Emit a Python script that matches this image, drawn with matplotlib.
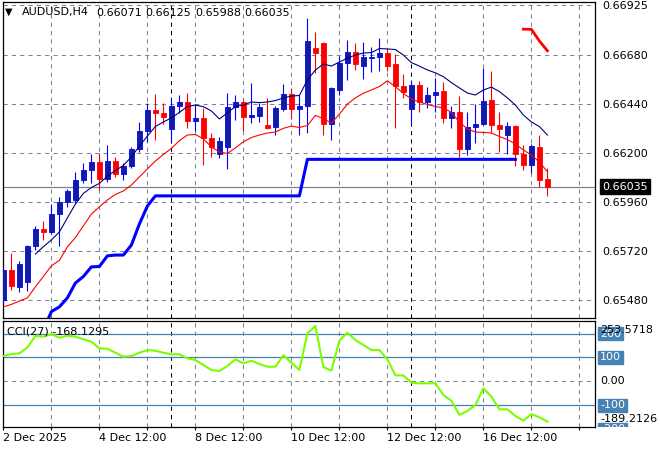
import numpy as np
import matplotlib.pyplot as plt
from matplotlib.transforms import Bbox, TransformedBbox, blended_transform_factory

plt.rcParams['font.family'] = ['DejaVu Sans']
plt.rcParams['lines.scale_dashes'] = False

# AUDUSD H4 candles, bar 0 = 2 Dec 12:00
opens = [0.65480, 0.65627, 0.65545, 0.65570, 0.65745, 0.65828, 0.65812, 0.65901, 0.65962, 0.65970,
         0.66068, 0.66117, 0.66155, 0.66071, 0.66162, 0.66096, 0.66138, 0.66220, 0.66308, 0.66411,
         0.66397, 0.66320, 0.66430, 0.66450, 0.66358, 0.66373, 0.66275, 0.66194, 0.66230, 0.66427,
         0.66450, 0.66378, 0.66380, 0.66337, 0.66326, 0.66414, 0.66489, 0.66417, 0.66428, 0.66716,
         0.66740, 0.66342, 0.66509, 0.66642, 0.66693, 0.66628, 0.66665, 0.66672, 0.66691, 0.66635,
         0.66528, 0.66416, 0.66533, 0.66451, 0.66484, 0.66504, 0.66373, 0.66399, 0.66218, 0.66326,
         0.66342, 0.66461, 0.66337, 0.66288, 0.66332, 0.66195, 0.66141, 0.66231, 0.66071]
highs = [0.65640, 0.65709, 0.65673, 0.65750, 0.65844, 0.65867, 0.65950, 0.65986, 0.66024, 0.66108,
         0.66153, 0.66195, 0.66199, 0.66239, 0.66179, 0.66153, 0.66231, 0.66350, 0.66444, 0.66489,
         0.66444, 0.66468, 0.66484, 0.66495, 0.66439, 0.66420, 0.66297, 0.66280, 0.66493, 0.66484,
         0.66460, 0.66544, 0.66444, 0.66468, 0.66430, 0.66538, 0.66517, 0.66484, 0.66863, 0.66794,
         0.66745, 0.66525, 0.66675, 0.66754, 0.66737, 0.66742, 0.66721, 0.66765, 0.66708, 0.66684,
         0.66587, 0.66558, 0.66554, 0.66522, 0.66566, 0.66549, 0.66430, 0.66479, 0.66402, 0.66440,
         0.66615, 0.66603, 0.66402, 0.66354, 0.66336, 0.66239, 0.66243, 0.66288, 0.66125]
lows = [0.65460, 0.65529, 0.65521, 0.65526, 0.65725, 0.65774, 0.65805, 0.65745, 0.65937, 0.65954,
        0.66052, 0.66052, 0.66019, 0.66060, 0.66081, 0.66068, 0.66125, 0.66204, 0.66255, 0.66264,
        0.66342, 0.66251, 0.66395, 0.66321, 0.66309, 0.66141, 0.66182, 0.66174, 0.66120, 0.66362,
        0.66309, 0.66346, 0.66354, 0.66318, 0.66288, 0.66408, 0.66365, 0.66288, 0.66297, 0.66593,
        0.66288, 0.66264, 0.66484, 0.66558, 0.66607, 0.66561, 0.66598, 0.66603, 0.66602, 0.66324,
        0.66468, 0.66341, 0.66402, 0.66419, 0.66402, 0.66348, 0.66321, 0.66179, 0.66190, 0.66251,
        0.66335, 0.66297, 0.66206, 0.66195, 0.66136, 0.66117, 0.66101, 0.66035, 0.65988]
closes = [0.65627, 0.65550, 0.65656, 0.65745, 0.65828, 0.65812, 0.65901, 0.65962, 0.66014, 0.66068,
          0.66117, 0.66155, 0.66071, 0.66162, 0.66096, 0.66138, 0.66220, 0.66308, 0.66411, 0.66395,
          0.66378, 0.66430, 0.66450, 0.66358, 0.66373, 0.66275, 0.66231, 0.66259, 0.66427, 0.66450,
          0.66378, 0.66386, 0.66425, 0.66321, 0.66419, 0.66489, 0.66417, 0.66428, 0.66749, 0.66691,
          0.66342, 0.66517, 0.66642, 0.66693, 0.66636, 0.66672, 0.66672, 0.66691, 0.66628, 0.66528,
          0.66497, 0.66533, 0.66451, 0.66484, 0.66500, 0.66373, 0.66399, 0.66218, 0.66326, 0.66342,
          0.66456, 0.66337, 0.66319, 0.66332, 0.66195, 0.66141, 0.66234, 0.66068, 0.66035]

nan = np.nan
ma_fast = [nan, nan, nan, nan, 0.65705, 0.65741, 0.65774, 0.65813, 0.65882, 0.65950,
           0.66002, 0.66031, 0.66051, 0.66087, 0.66114, 0.66139, 0.66181, 0.66234, 0.66283, 0.66330,
           0.66352, 0.66372, 0.66399, 0.66428, 0.66435, 0.66427, 0.66406, 0.66367, 0.66396, 0.66428,
           0.66435, 0.66450, 0.66447, 0.66450, 0.66457, 0.66470, 0.66479, 0.66482, 0.66558, 0.66607,
           0.66636, 0.66626, 0.66646, 0.66665, 0.66680, 0.66690, 0.66692, 0.66712, 0.66710, 0.66707,
           0.66680, 0.66643, 0.66626, 0.66607, 0.66593, 0.66574, 0.66545, 0.66519, 0.66494, 0.66484,
           0.66509, 0.66523, 0.66501, 0.66470, 0.66435, 0.66386, 0.66352, 0.66330, 0.66288]
ma_slow = [0.65446, 0.65458, 0.65475, 0.65490, 0.65544, 0.65595, 0.65647, 0.65674, 0.65740, 0.65786,
           0.65843, 0.65901, 0.65936, 0.65970, 0.65997, 0.66014, 0.66043, 0.66083, 0.66122, 0.66161,
           0.66193, 0.66222, 0.66261, 0.66288, 0.66291, 0.66269, 0.66230, 0.66205, 0.66198, 0.66225,
           0.66255, 0.66276, 0.66288, 0.66298, 0.66303, 0.66321, 0.66332, 0.66325, 0.66335, 0.66384,
           0.66369, 0.66346, 0.66391, 0.66440, 0.66470, 0.66493, 0.66509, 0.66526, 0.66554, 0.66525,
           0.66492, 0.66465, 0.66450, 0.66438, 0.66428, 0.66421, 0.66399, 0.66352, 0.66318, 0.66303,
           0.66301, 0.66298, 0.66281, 0.66266, 0.66244, 0.66215, 0.66190, 0.66156, 0.66108]
stop_up = [nan, nan, nan, nan, nan, 0.65333, 0.65423, 0.65446, 0.65490, 0.65563,
           0.65595, 0.65642, 0.65644, 0.65696, 0.65700, 0.65700, 0.65749, 0.65852, 0.65940, 0.65990,
           0.65990, 0.65990, 0.65990, 0.65990, 0.65990, 0.65990, 0.65990, 0.65990, 0.65990, 0.65990,
           0.65990, 0.65990, 0.65990, 0.65990, 0.65990, 0.65990, 0.65990, 0.65990, 0.66169, 0.66169,
           0.66169, 0.66169, 0.66169, 0.66169, 0.66169, 0.66169, 0.66169, 0.66169, 0.66169, 0.66169,
           0.66169, 0.66169, 0.66169, 0.66169, 0.66169, 0.66169, 0.66169, 0.66169, 0.66169, 0.66169,
           0.66169, 0.66169, 0.66169, 0.66169, 0.66169, nan, nan, nan, nan]
stop_down = [nan] * 65 + [0.66807, 0.66806, 0.66749, 0.66701]

cci = [106, 114.5, 117, 142, 190, 187, 198, 182.6, 191, 187,
       176, 166, 138, 136.5, 120, 103, 106, 120, 131, 128,
       120, 113, 113, 96.5, 89.4, 68.5, 47.6, 43.5, 64.4, 92,
       75.6, 86.5, 72.7, 61.4, 61.4, 109, 78, 47.6, 201, 231.4,
       60, 45, 170, 203.5, 173, 152, 131, 131, 92, 25.5,
       25, -5.4, -8, -8, -8, -57, -80.6, -140, -123.6, -98.6,
       -29, -64, -116.5, -116.5, -144.5, -164, -137, -150, -168.1295]

date_labels = ['2 Dec 2025', '4 Dec 12:00', '8 Dec 12:00', '10 Dec 12:00', '12 Dec 12:00', '16 Dec 12:00']
label_bars = [0, 12, 24, 36, 48, 60]
week_seps = [21, 51]
price_ticks = [0.65480, 0.65720, 0.65960, 0.66200, 0.66440, 0.66680, 0.66925]
cci_levels = [200, 100, -100, -200]
bid = 0.66035
cci_top, cci_bottom = 253.5718, -189.2126

W, H = 660, 450
fig = plt.figure(figsize=(W / 100, H / 100), dpi=100)


def px(x0, y0, x1, y1):
    return [x0 / W, 1 - y1 / H, (x1 - x0) / W, (y1 - y0) / H]


ax = fig.add_axes(px(2.5, 2, 595, 317.5))
ax2 = fig.add_axes(px(2.5, 320.7, 595, 426.7))

grid_c = '#7a8593'
dash = (0, (3, 3))
xlim = (-0.11, 73.95)

# --- price panel ---
x = np.arange(len(opens))
o = np.array(opens); h = np.array(highs); l = np.array(lows); c = np.array(closes)
up = c >= o
lo = np.minimum(o, c)
bh = np.maximum(np.abs(c - o), 0.00003)

for yv in price_ticks:
    ax.axhline(yv, color=grid_c, ls=dash, lw=0.75, zorder=0)
for axx in (ax, ax2):
    for b in range(6, 74, 6):
        axx.axvline(b, color=grid_c, ls=dash, lw=0.75, zorder=0)
    for b in week_seps:
        axx.axvline(b, color='black', ls=dash, lw=0.75, zorder=0.5)
ax.axhline(bid, color='#7a8593', lw=0.9, zorder=1)

ax.vlines(x[up], l[up], h[up], color='#0000ff', lw=0.8, zorder=3)
ax.bar(x[up], bh[up], bottom=lo[up], width=0.6, color='#101e9c', edgecolor='#0000ff', lw=0.6, zorder=4)
ax.vlines(x[~up], l[~up], h[~up], color='#ff0000', lw=0.8, zorder=3)
ax.bar(x[~up], bh[~up], bottom=lo[~up], width=0.6, color='#ff0000', edgecolor='#ff0000', lw=0.6, zorder=4)

ax.plot(x, ma_fast, color='#000080', lw=0.8, zorder=5)
ax.plot(x, ma_slow, color='#ff0000', lw=0.8, zorder=5)
ax.plot(x, stop_up, color='#0000ff', lw=2.2, zorder=5)
ax.plot(x, stop_down, color='#ff0000', lw=2.0, zorder=5)

ax.set_xlim(*xlim)
ax.set_ylim(0.65394, 0.66940)
ax.set_xticks([])
ax.yaxis.tick_right()
ax.set_yticks(price_ticks)
ax.set_yticklabels(['%.5f' % v for v in price_ticks])
ax.tick_params(axis='y', length=0, pad=5.5, labelsize=8)

bt = blended_transform_factory(ax.transAxes, ax.transData)
ax.text(1.0118, bid, '0.66035', transform=bt, color='white', fontsize=8, va='center', ha='left',
        bbox=dict(boxstyle='square,pad=0.2', fc='black', ec='black'), zorder=10, clip_on=False)

# --- CCI panel ---
for lv in cci_levels:
    ax2.axhline(lv, color='#4682b4', lw=0.9, zorder=1)
ax2.axhline(0, color=grid_c, ls=dash, lw=0.75, zorder=0)
ax2.plot(x, cci, color='#7cfc00', lw=1.5, zorder=5)
ax2.set_xlim(*xlim)
ax2.set_ylim(cci_bottom, cci_top)
ax2.set_yticks([])
ax2.set_xticks(range(0, 73, 6))
ax2.set_xticklabels([date_labels[label_bars.index(b)] if b in label_bars else '' for b in range(0, 73, 6)])
ax2.tick_params(axis='x', length=2.5, pad=2, labelsize=8)
for t in ax2.get_xticklabels():
    t.set_ha('left')

bt2 = blended_transform_factory(ax2.transAxes, ax2.transData)
clip = TransformedBbox(Bbox([[0, 0.0518], [1, 0.2873]]), fig.transFigure)
for lv in cci_levels:
    t = ax2.text(1.0084, lv, '%d' % lv, transform=bt2, color='white', fontsize=8, va='center', ha='left',
                 bbox=dict(boxstyle='square,pad=0.15', fc='#4682b4', ec='#4682b4'), zorder=10, clip_on=True)
    t.set_clip_path(None)
    t.set_clip_box(clip)
ax2.text(1.0084, 0, '0.00', transform=bt2, fontsize=8, va='center', ha='left', clip_on=False)
ax2.text(1.0084, 215, '%.4f' % cci_top, transform=bt2, fontsize=8, va='center', ha='left', clip_on=False, zorder=11)
ax2.text(1.0084, -155, '%.4f' % cci_bottom, transform=bt2, fontsize=8, va='center', ha='left', clip_on=False, zorder=11)

for a in (ax, ax2):
    for s in a.spines.values():
        s.set_linewidth(0.9)

# --- header texts ---
def ptext(xp, yp, s, **kw):
    fig.text(xp / W, 1 - yp / H, s, va='center', ha='left', **kw)


ptext(4.5, 11.5, '\u25bc', fontsize=7)
ptext(21.5, 12.5, 'AUDUSD,H4', fontsize=8)
for xp, s in zip([96, 145.5, 195, 244], ['0.66071', '0.66125', '0.65988', '0.66035']):
    ptext(xp, 12.5, s, fontsize=8)
ptext(7, 331.5, 'CCI(27) %.4f' % cci[-1], fontsize=8)

fig.savefig('out.png', dpi=100)
